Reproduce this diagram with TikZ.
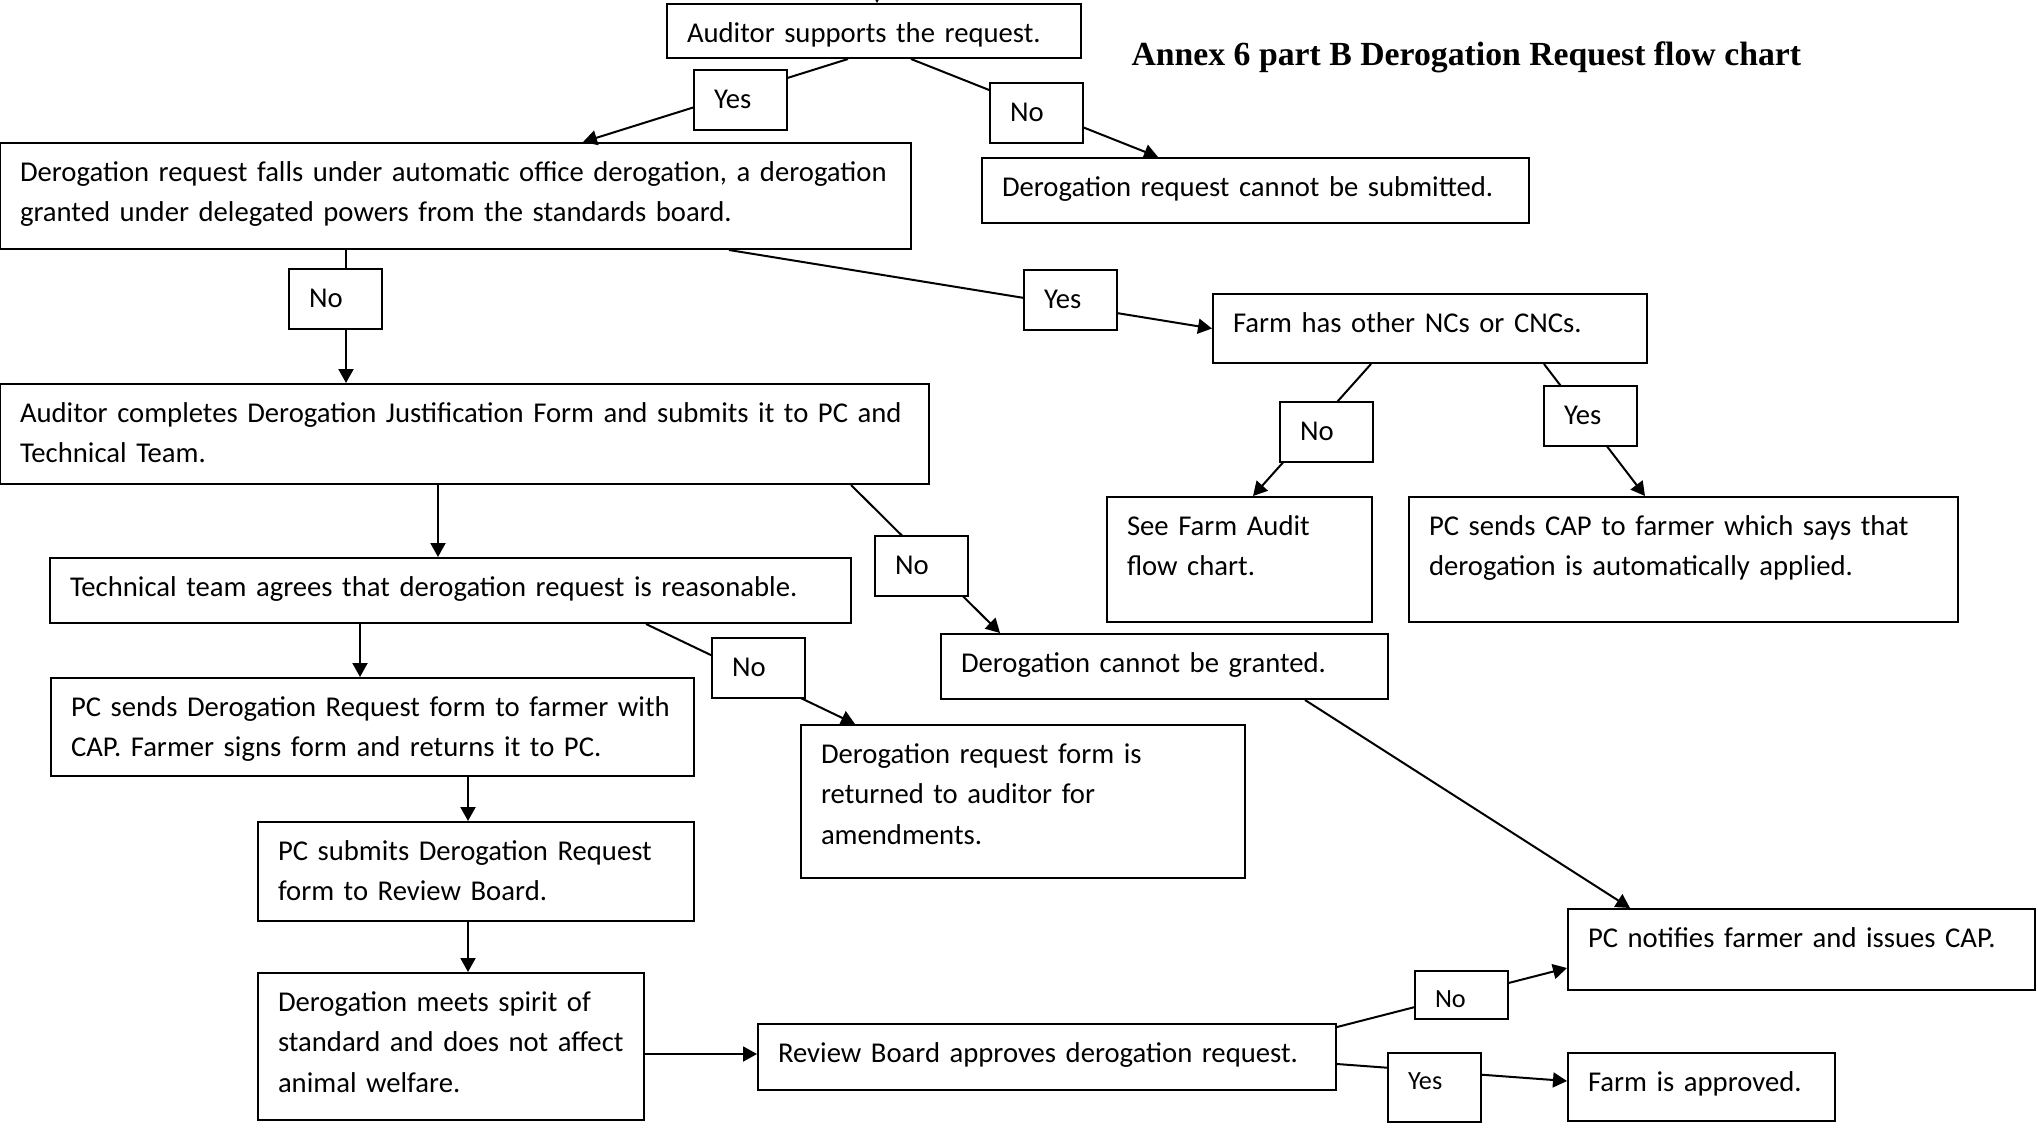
\documentclass[tikz,border=0pt]{standalone}
\usepackage{fontspec}
\setmainfont{Carlito}
\newfontfamily\titlefont{Liberation Serif}
\usetikzlibrary{arrows.meta, positioning}

\begin{document}
\begin{tikzpicture}[x=0.4pt, y=-0.4pt,
    box/.style={rectangle, draw, fill=white, line width=0.8pt, anchor=north west, align=left, inner xsep=8pt, inner ysep=0pt, text height=15.2pt, font=\fontsize{11.47}{16.2}\selectfont, execute at begin node={\hyphenpenalty=10000\rightskip=-24pt plus 1fil}},
    lbl/.style={box, text width=21pt, text depth=8.8pt},
    small/.style={font=\fontsize{10.5}{14.6}\selectfont, text height=14.4pt},
    arrow/.style={->, >={Triangle[length=5.6pt, width=6pt]}, line width=0.8pt}]

    \useasboundingbox (0,0) rectangle (2038,1127);

    \node[anchor=base west, inner sep=0pt, font=\titlefont\bfseries\fontsize{13.5}{16}\selectfont] (title) at (1131,65) {Annex 6 part B Derogation Request flow chart};

    \node[box, text width=149.6pt, text depth=6.4pt] (aud) at (666,3) {Auditor supports the request.};
    \node[box, text width=348.4pt, text depth=27.2pt] (auto) at (-1,142) {Derogation request falls under automatic office derogation, a derogation\\ granted under delegated powers from the standards board.};
    \node[box, text width=202.8pt, text depth=10.8pt] (cansub) at (981,157) {Derogation request cannot be submitted.};
    \node[box, text width=157.6pt, text depth=12.4pt] (farm) at (1212,293) {Farm has other NCs or CNCs.};
    \node[box, text width=90pt, text depth=34.8pt] (seeaudit) at (1106,496) {See Farm Audit\\ flow chart.};
    \node[box, text width=203.6pt, text depth=34.8pt] (capsent) at (1408,496) {PC sends CAP to farmer which says that\\ derogation is automatically applied.};
    \node[box, text width=355.6pt, text depth=24.8pt] (jtf) at (-1,383) {Auditor completes Derogation Justification Form and submits it to PC and\\ Technical Team.};
    \node[box, text width=304.4pt, text depth=10.8pt] (tech) at (49,557) {Technical team agrees that derogation request is reasonable.};
    \node[box, text width=162.8pt, text depth=10.8pt] (nogrant) at (940,633) {Derogation cannot be granted.};
    \node[box, text width=161.6pt, text depth=46pt] (amend) at (800,724) {Derogation request form is\\ returned to auditor for\\ amendments.};
    \node[box, text width=241.2pt, text depth=24pt] (pcform) at (50,677) {PC sends Derogation Request form to farmer with\\ CAP. Farmer signs form and returns it to PC.};
    \node[box, text width=158.4pt, text depth=24.4pt] (pcsub) at (257,821) {PC submits Derogation Request\\ form to Review Board.};
    \node[box, text width=138.4pt, text depth=43.6pt] (spirit) at (257,972) {Derogation meets spirit of\\ standard and does not affect\\ animal welfare.};
    \node[box, text width=215.2pt, text depth=11.2pt] (review) at (757,1023) {Review Board approves derogation request.};
    \node[box, text width=170.8pt, text depth=17.2pt] (notify) at (1567,908) {PC notifies farmer and issues CAP.};
    \node[box, text width=90.8pt, text depth=12pt] (approved) at (1567,1052) {Farm is approved.};

    \coordinate (prev) at (877,-16);
    \draw[arrow] (prev) -- (prev |- aud.north);
    \draw[arrow] ([xshift=-10.4pt]aud.south) -- ([xshift=51pt]auto.north);
    \draw[arrow] ([xshift=14.8pt]aud.south) -- ([xshift=-39pt]cansub.north);
    \draw[arrow] ([xshift=-43.8pt]auto.south) -- ([xshift=-43.8pt]auto.south |- jtf.north);
    \draw[arrow] ([xshift=109.4pt]auto.south) -- (farm.west);
    \draw[arrow] ([xshift=-23.6pt]farm.south) -- ([xshift=5.4pt]seeaudit.north);
    \draw[arrow] ([xshift=45.6pt]farm.south) -- ([xshift=-15.4pt]capsent.north);
    \draw[arrow] ([xshift=-10.6pt]jtf.south) -- ([xshift=-10.6pt]jtf.south |- tech.north);
    \draw[arrow] ([xshift=154.6pt]jtf.south) -- ([xshift=-65.8pt]nogrant.north);
    \draw[arrow] ([xshift=-36.2pt]tech.south) -- ([xshift=-36.2pt]tech.south |- pcform.north);
    \draw[arrow] ([xshift=78.2pt]tech.south) -- ([xshift=-67.2pt]amend.north);
    \draw[arrow] ([xshift=38.2pt]pcform.south) -- ([xshift=38.2pt]pcform.south |- pcsub.north);
    \draw[arrow] ([xshift=-3.2pt]pcsub.south) -- ([xshift=-3.2pt]pcsub.south |- spirit.north);
    \draw[arrow] ([yshift=-3pt]spirit.east) -- ([yshift=-3pt]spirit.east -| review.west);
    \draw[arrow] ([xshift=56.2pt]nogrant.south) -- ([xshift=-68.6pt]notify.north);
    \draw[arrow] ([yshift=12pt]review.east) -- ([yshift=-7.4pt]notify.west);
    \draw[arrow] ([yshift=-2.8pt]review.east) -- ([yshift=2.4pt]approved.west);

    \node[lbl] (yes1) at (693,69) {Yes};
    \node[lbl] (no1) at (989,82) {No};
    \node[lbl] (no2) at (288,268) {No};
    \node[lbl] (yes2) at (1023,269) {Yes};
    \node[lbl] (no3) at (1279,401) {No};
    \node[lbl] (yes3) at (1543,385) {Yes};
    \node[lbl] (no4) at (874,535) {No};
    \node[lbl] (no5) at (711,637) {No};
    \node[lbl, small, text depth=4.8pt] (no6) at (1414,970) {No};
    \node[lbl, small, text depth=13.2pt] (yes4) at (1387,1052) {Yes};
\end{tikzpicture}
\end{document}
